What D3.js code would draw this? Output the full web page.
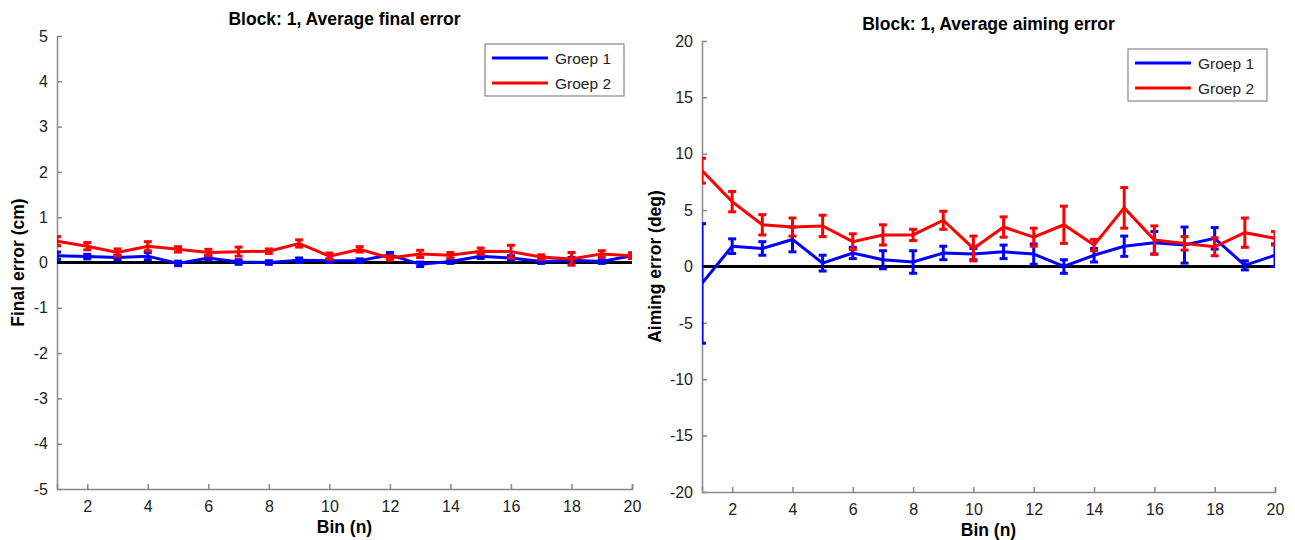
<!DOCTYPE html>
<html>
<head>
<meta charset="utf-8">
<script src="https://cdn.jsdelivr.net/npm/d3@7"></script>
<style>
  body { margin: 0; background: #fff; }
  text { font-family: "Liberation Sans", Arial, sans-serif; }
</style>
</head>
<body>
<svg id="chart" width="1295" height="540"></svg>
<script>
const bins = [1, 2, 3, 4, 5, 6, 7, 8, 9, 10, 11, 12, 13, 14, 15, 16, 17, 18, 19, 20];
const binTicks = [2, 4, 6, 8, 10, 12, 14, 16, 18, 20];
const groups = ["Groep 1", "Groep 2"];

// final error (cm)
const finalG1 = [0.15, 0.13, 0.11, 0.14, -0.02, 0.10, 0.01, 0.00, 0.05, 0.04, 0.04, 0.17, -0.04, 0.02, 0.14, 0.10, 0.02, 0.05, 0.02, 0.15];
const finalG1Err = [0.08, 0.05, 0.05, 0.08, 0.05, 0.05, 0.05, 0.04, 0.05, 0.04, 0.04, 0.05, 0.05, 0.04, 0.05, 0.05, 0.04, 0.06, 0.04, 0.06];
const finalG2 = [0.47, 0.36, 0.22, 0.36, 0.29, 0.22, 0.24, 0.25, 0.42, 0.14, 0.29, 0.10, 0.19, 0.16, 0.25, 0.24, 0.12, 0.08, 0.19, 0.15];
const finalG2Err = [0.10, 0.08, 0.08, 0.10, 0.06, 0.07, 0.10, 0.05, 0.08, 0.07, 0.06, 0.05, 0.08, 0.06, 0.07, 0.14, 0.05, 0.14, 0.07, 0.06];
const finalTicks = [-5, -4, -3, -2, -1, 0, 1, 2, 3, 4, 5];

// aiming error (deg)
const aimG1 = [-1.5, 1.8, 1.6, 2.4, 0.3, 1.2, 0.6, 0.4, 1.2, 1.1, 1.3, 1.1, 0.0, 1.0, 1.8, 2.1, 1.9, 2.5, 0.1, 1.0];
const aimG1Err = [5.3, 0.65, 0.6, 1.1, 0.7, 0.5, 0.8, 1.0, 0.6, 0.5, 0.6, 0.9, 0.6, 0.6, 0.9, 1.0, 1.6, 0.95, 0.4, 1.0];
const aimG2 = [8.5, 5.75, 3.7, 3.5, 3.6, 2.2, 2.8, 2.8, 4.1, 1.6, 3.5, 2.6, 3.7, 1.9, 5.2, 2.35, 2.05, 1.75, 3.0, 2.5];
const aimG2Err = [1.1, 0.9, 0.9, 0.8, 0.95, 0.7, 0.9, 0.5, 0.8, 1.1, 0.9, 0.8, 1.65, 0.5, 1.8, 1.25, 0.6, 0.8, 1.3, 0.6];
const aimTicks = [-20, -15, -10, -5, 0, 5, 10, 15, 20];

const colors = ["#0000ff", "#ff0000"];
const svg = d3.select("#chart");

const drawPanel = (id, box, yDomain, yTicks, series, title, yLabel, yLabelX) => {
    const x = d3.scaleLinear().domain([1, 20]).range([box.x0, box.x1]);
    const y = d3.scaleLinear().domain(yDomain).range([box.y1, box.y0]);
    const g = svg.append("g");

    g.append("clipPath").attr("id", id)
        .append("rect")
        .attr("x", box.x0).attr("y", box.y0)
        .attr("width", box.x1 - box.x0).attr("height", box.y1 - box.y0);

    // axes (matlab style, ticks inside)
    const xAxis = g.append("g").attr("transform", `translate(0,${box.y1})`)
        .call(d3.axisBottom(x).tickValues(binTicks).tickFormat(d => String(d))
            .tickSizeInner(-5).tickSizeOuter(-5).tickPadding(12));
    const yAxis = g.append("g").attr("transform", `translate(${box.x0},0)`)
        .call(d3.axisLeft(y).tickValues(yTicks).tickFormat(d => String(d))
            .tickSizeInner(-5).tickSizeOuter(0).tickPadding(9));
    [xAxis, yAxis].forEach(a => {
        a.select(".domain").attr("stroke", "#888").attr("stroke-width", 1.5);
        a.selectAll(".tick line").attr("stroke", "#888").attr("stroke-width", 1.5);
        a.selectAll(".tick text").attr("fill", "#222").style("font-size", "16px");
    });

    const plot = g.append("g").attr("clip-path", `url(#${id})`);

    // zero line
    plot.append("line")
        .attr("x1", box.x0).attr("x2", box.x1)
        .attr("y1", y(0)).attr("y2", y(0))
        .attr("stroke", "#000").attr("stroke-width", 3);

    series.forEach((s, si) => {
        const pts = bins.map((b, i) => ({ b: b, v: s.values[i], e: s.errs[i] }));
        const line = d3.line().x(d => x(d.b)).y(d => y(d.v));
        plot.append("path").datum(pts)
            .attr("d", line)
            .attr("fill", "none")
            .attr("stroke", colors[si]).attr("stroke-width", 3);

        const eb = plot.append("g").selectAll("g").data(pts).enter().append("g")
            .attr("stroke", colors[si]).attr("stroke-width", 3);
        eb.append("line")
            .attr("x1", d => x(d.b)).attr("x2", d => x(d.b))
            .attr("y1", d => y(d.v - d.e)).attr("y2", d => y(d.v + d.e));
        eb.append("line")
            .attr("x1", d => x(d.b) - 4).attr("x2", d => x(d.b) + 4)
            .attr("y1", d => y(d.v - d.e)).attr("y2", d => y(d.v - d.e));
        eb.append("line")
            .attr("x1", d => x(d.b) - 4).attr("x2", d => x(d.b) + 4)
            .attr("y1", d => y(d.v + d.e)).attr("y2", d => y(d.v + d.e));
    });

    // title and labels
    const cx = (box.x0 + box.x1) / 2;
    g.append("text").attr("x", cx).attr("y", box.y0 - 11)
        .attr("text-anchor", "middle").style("font-size", "17.5px").style("font-weight", "bold")
        .text(title);
    g.append("text").attr("x", cx).attr("y", box.y1 + 44)
        .attr("text-anchor", "middle").style("font-size", "17.5px").style("font-weight", "bold")
        .text("Bin (n)");
    g.append("text")
        .attr("transform", `translate(${yLabelX},${(box.y0 + box.y1) / 2}) rotate(-90)`)
        .attr("text-anchor", "middle").style("font-size", "17.5px").style("font-weight", "bold")
        .text(yLabel);

    // legend
    const lx1 = box.x1 - 8, lx0 = lx1 - 139, ly0 = box.y0 + 8;
    const lg = g.append("g");
    lg.append("rect")
        .attr("x", lx0).attr("y", ly0).attr("width", lx1 - lx0).attr("height", 52)
        .attr("fill", "#fff").attr("stroke", "#888").attr("stroke-width", 1.2);
    groups.forEach((name, i) => {
        const ly = ly0 + 14 + i * 25;
        lg.append("line")
            .attr("x1", lx0 + 7).attr("x2", lx0 + 63)
            .attr("y1", ly).attr("y2", ly)
            .attr("stroke", colors[i]).attr("stroke-width", 3);
        lg.append("text").attr("x", lx0 + 70).attr("y", ly + 5.5)
            .attr("fill", "#222").style("font-size", "15.5px")
            .text(name);
    });
};

drawPanel("clipA", { x0: 57, x1: 632, y0: 36, y1: 489 }, [-5, 5], finalTicks,
    [{ values: finalG1, errs: finalG1Err }, { values: finalG2, errs: finalG2Err }],
    "Block: 1, Average final error", "Final error (cm)", 24);

drawPanel("clipB", { x0: 702, x1: 1275, y0: 41, y1: 492 }, [-20, 20], aimTicks,
    [{ values: aimG1, errs: aimG1Err }, { values: aimG2, errs: aimG2Err }],
    "Block: 1, Average aiming error", "Aiming error (deg)", 661);
</script>
</body>
</html>
